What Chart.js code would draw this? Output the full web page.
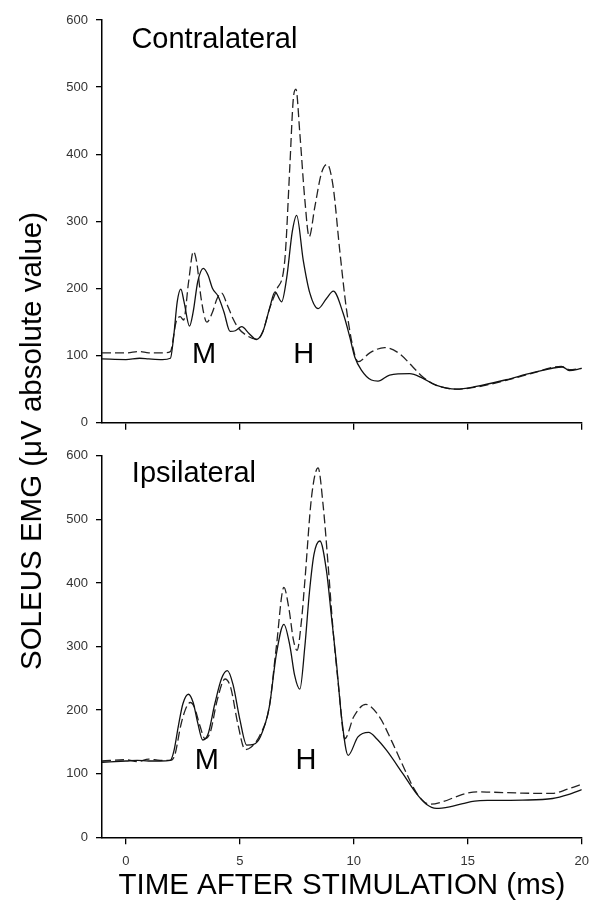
<!DOCTYPE html>
<html>
<head>
<meta charset="utf-8">
<script src="https://cdn.jsdelivr.net/npm/chart.js@4.4.1/dist/chart.umd.min.js"></script>
<style>
    body { margin: 0; background: #fff; }
    #wrap { position: relative; width: 598px; height: 901px; }
    #topCanvas { position: absolute; left: 0; top: 0; }
    #bottomCanvas { position: absolute; left: 0; top: 440px; }
    #yTitle {
        position: absolute; left: 31px; top: 441px;
        transform: translate(-50%, -50%) rotate(-90deg);
        font-family: "Liberation Sans", Arial, sans-serif; font-size: 29.5px;
        white-space: nowrap; color: #000;
    }
</style>
</head>
<body>
<div id="wrap">
    <canvas id="topCanvas" width="598" height="440"></canvas>
    <canvas id="bottomCanvas" width="598" height="461"></canvas>
    <div id="yTitle">SOLEUS EMG (μV absolute value)</div>
</div>
<script>
// Contralateral panel (ms, μV)
const contraSolidT = [-1.05, 0, 0.6, 1.0, 1.6, 1.95, 2.1, 2.25, 2.41, 2.55, 2.79, 2.95, 3.15, 3.4, 3.6, 3.8, 4.05, 4.3, 4.57, 4.8, 5.08, 5.4, 5.73, 6.0, 6.3, 6.54, 6.83, 7.05, 7.3, 7.49, 7.78, 8.07, 8.43, 8.8, 9.1, 9.53, 9.82, 10.04, 10.33, 10.77, 11.06, 11.57, 12.45, 13.03, 13.6, 14.5, 15.37, 16.68, 17.85, 19.16, 19.45, 20];
const contraSolidV = [95, 94, 96, 95, 94, 96, 130, 180, 199, 180, 144, 165, 210, 230, 220, 200, 188, 165, 136, 137, 143, 133, 124, 135, 170, 195, 180, 215, 285, 309, 242, 193, 170, 185, 196, 163, 128, 98, 78.5, 63.6, 62, 71, 73, 66, 56, 50, 54, 64, 74.5, 83, 77.5, 81];
const contraDashT = [-1.05, 0, 0.6, 1.0, 1.6, 1.95, 2.2, 2.38, 2.53, 2.75, 2.96, 3.1, 3.3, 3.55, 3.8, 4.0, 4.2, 4.45, 4.7, 4.93, 5.3, 5.75, 6.0, 6.3, 6.61, 6.97, 7.19, 7.34, 7.46, 7.63, 7.85, 8.04, 8.29, 8.58, 8.83, 9.09, 9.38, 9.68, 10.04, 10.19, 10.7, 11.35, 12.0, 12.59, 13.03, 13.6, 14.5, 15.37, 16.68, 17.85, 19.1, 19.45, 20];
const contraDashV = [104, 104, 106, 104, 104, 106, 150, 158, 153, 210, 255, 240, 185, 150, 165, 185, 193, 175, 155, 141, 130, 124, 135, 170, 198, 242, 381, 481, 497, 431, 332, 277, 322, 372, 385, 352, 257, 168, 101, 91, 104, 112, 103, 83, 68, 56, 50, 53, 63, 74, 84, 79, 81];

// Ipsilateral panel
const ipsiSolidT = [-1.05, 0, 0.5, 1.0, 1.5, 1.95, 2.1, 2.3, 2.5, 2.74, 2.95, 3.15, 3.37, 3.6, 3.9, 4.2, 4.45, 4.7, 5.0, 5.3, 5.6, 5.9, 6.29, 6.6, 6.93, 7.2, 7.4, 7.63, 7.85, 8.05, 8.25, 8.51, 8.8, 9.02, 9.24, 9.46, 9.75, 10.18, 10.65, 11.0, 11.43, 12.15, 12.74, 13.18, 13.62, 14.2, 14.78, 15.3, 16.0, 17.4, 18.72, 19.4, 20];
const ipsiSolidV = [118, 120, 121, 120, 120, 121, 135, 175, 210, 225, 212, 180, 153, 162, 210, 250, 262, 240, 185, 145, 146, 158, 205, 288, 335, 300, 255, 233, 300, 385, 445, 466, 419, 346, 273, 189, 129, 158, 165, 155, 137, 100, 69, 52, 45.5, 48, 53, 57, 58, 58.5, 61, 67, 75];
const ipsiDashT = [-1.05, 0, 0.5, 1.0, 1.5, 1.95, 2.15, 2.4, 2.6, 2.82, 3.0, 3.25, 3.47, 3.7, 4.0, 4.35, 4.6, 4.9, 5.23, 5.5, 5.9, 6.29, 6.6, 6.93, 7.15, 7.35, 7.51, 7.7, 7.85, 8.14, 8.43, 8.65, 8.87, 9.09, 9.35, 9.6, 10.0, 10.52, 11.13, 11.65, 12.15, 12.6, 12.96, 13.32, 13.9, 14.5, 14.93, 15.4, 16.0, 17.4, 18.7, 19.4, 20];
const ipsiDashV = [120, 122, 119, 123, 121, 121, 130, 175, 200, 212, 205, 175, 155, 165, 215, 249, 235, 180, 138, 142, 162, 205, 300, 393, 360, 310, 294, 340, 403, 534, 581, 523, 429, 325, 230, 155, 190, 209, 189, 152, 113, 79, 60, 52, 56, 64, 69, 71.5, 71, 69.5, 69, 76, 83.5];

// text placed in data coordinates
const contraLabels = [
    { text: 'Contralateral', x: 0.24, y: 570, align: 'left' },
    { text: 'M', x: 3.43, y: 101 },
    { text: 'H', x: 7.8, y: 101 }
];
const ipsiLabels = [
    { text: 'Ipsilateral', x: 0.26, y: 571, align: 'left' },
    { text: 'M', x: 3.55, y: 120 },
    { text: 'H', x: 7.9, y: 120 }
];

const FONT = '"Liberation Sans", Arial, sans-serif';

const panelText = {
    id: 'panelText',
    afterDatasetsDraw(chart, args, opts) {
        const ctx = chart.ctx;
        const x = chart.scales.x, y = chart.scales.y;
        ctx.save();
        ctx.font = '29px ' + FONT;
        ctx.fillStyle = '#000';
        ctx.textBaseline = 'middle';
        opts.items.forEach(item => {
            ctx.textAlign = item.align || 'center';
            ctx.fillText(item.text, x.getPixelForValue(item.x), y.getPixelForValue(item.y));
        });
        ctx.restore();
    }
};

function toPoints(t, v) {
    return t.map((tt, i) => ({ x: tt, y: v[i] }));
}

function makePanel(id, solidT, solidV, dashT, dashV, labels, isBottom) {
    const ctx = document.getElementById(id).getContext('2d');
    return new Chart(ctx, {
        type: 'line',
        data: {
            datasets: [{
                data: toPoints(solidT, solidV),
                borderColor: '#111',
                borderWidth: 1.3,
                pointRadius: 0,
                cubicInterpolationMode: 'monotone'
            }, {
                data: toPoints(dashT, dashV),
                borderColor: '#222',
                borderWidth: 1.3,
                borderDash: [9, 4],
                pointRadius: 0,
                cubicInterpolationMode: 'monotone'
            }]
        },
        options: {
            responsive: false,
            animation: false,
            devicePixelRatio: 1,
            layout: { padding: { left: 0, right: 16, top: isBottom ? 14.3 : 20, bottom: 0 } },
            plugins: {
                legend: { display: false },
                tooltip: { enabled: false },
                panelText: { items: labels }
            },
            scales: {
                x: {
                    type: 'linear',
                    min: -1.05,
                    max: 20,
                    grid: { drawOnChartArea: false, tickLength: 7, color: '#000', lineWidth: 1.3 },
                    border: { color: '#000', width: 1.5 },
                    ticks: {
                        stepSize: 5,
                        includeBounds: false,
                        padding: 9,
                        color: isBottom ? '#333' : 'rgba(0,0,0,0)',
                        font: { family: FONT, size: 13 }
                    },
                    title: {
                        display: isBottom,
                        text: 'TIME AFTER STIMULATION (ms)',
                        color: '#000',
                        font: { family: FONT, size: 29.5, lineHeight: 1.0 },
                        padding: { top: 0, bottom: 0 }
                    },
                    afterFit: s => { s.height = isBottom ? 63.7 : 17.3; }
                },
                y: {
                    min: 0,
                    max: 600,
                    grid: { drawOnChartArea: false, tickLength: 6, color: '#000', lineWidth: 1.3 },
                    border: { color: '#000', width: 1.5 },
                    ticks: {
                        stepSize: 100,
                        padding: 8,
                        color: '#333',
                        font: { family: FONT, size: 13 }
                    },
                    afterFit: s => { s.width = 102; }
                }
            }
        },
        plugins: [panelText]
    });
}

makePanel('topCanvas', contraSolidT, contraSolidV, contraDashT, contraDashV, contraLabels, false);
makePanel('bottomCanvas', ipsiSolidT, ipsiSolidV, ipsiDashT, ipsiDashV, ipsiLabels, true);
</script>
</body>
</html>
